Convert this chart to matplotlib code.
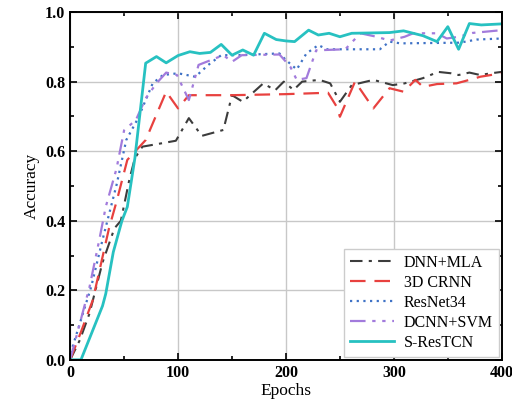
import matplotlib
matplotlib.use("Agg")
import matplotlib.pyplot as plt
from matplotlib.ticker import MultipleLocator

plt.rcParams["font.family"] = ["Liberation Serif", "DejaVu Serif"]

# values
dnn_x = [0, 9, 18, 30, 41, 47, 55, 60, 67, 80, 98, 110, 122, 142, 150, 160, 179, 190, 198, 207,
         215, 231, 241, 250, 261, 281, 299, 310, 327, 341, 353, 360, 370, 380, 390, 400]
dnn_y = [0, 0.057, 0.134, 0.28, 0.378, 0.40, 0.52, 0.58, 0.613, 0.62, 0.63, 0.695, 0.644, 0.661,
         0.761, 0.742, 0.795, 0.775, 0.80, 0.776, 0.80, 0.805, 0.795, 0.742, 0.79, 0.805, 0.79,
         0.795, 0.81, 0.828, 0.824, 0.819, 0.826, 0.819, 0.824, 0.828]

crnn_x = [0, 10, 21, 36, 43, 53, 70, 89, 100, 110, 150, 200, 239, 247, 250, 264, 281, 296, 309,
          320, 327, 340, 358, 370, 380, 400]
crnn_y = [0, 0.08, 0.172, 0.378, 0.455, 0.575, 0.632, 0.771, 0.723, 0.761, 0.761, 0.764, 0.768,
          0.728, 0.699, 0.80, 0.723, 0.781, 0.771, 0.805, 0.785, 0.793, 0.795, 0.805, 0.814, 0.824]

resnet_x = [0, 2.5, 19.5, 30, 43, 52, 63, 76.5, 86, 100, 116, 128, 140, 154, 194, 200, 210, 219,
            230, 238, 287, 296, 306, 361, 377, 400]
resnet_y = [0, 0.04, 0.21, 0.345, 0.503, 0.632, 0.695, 0.795, 0.819, 0.824, 0.814, 0.848, 0.876,
            0.876, 0.881, 0.862, 0.835, 0.881, 0.905, 0.893, 0.893, 0.915, 0.91, 0.912, 0.921, 0.924]

dcnn_x = [0, 18, 27, 33, 43, 50, 61, 70, 80, 89, 99, 110, 119, 142, 150, 159, 194, 204, 210, 219,
          228, 255, 269, 284, 296, 310, 318, 340, 349, 360, 373, 400]
dcnn_y = [0, 0.21, 0.345, 0.44, 0.55, 0.66, 0.69, 0.752, 0.795, 0.826, 0.819, 0.747, 0.848, 0.876,
          0.857, 0.876, 0.878, 0.843, 0.805, 0.81, 0.89, 0.893, 0.939, 0.929, 0.918, 0.929, 0.939,
          0.939, 0.924, 0.929, 0.94, 0.948]

tcn_x = [0, 10, 30, 33, 40, 48, 53, 60, 70, 80, 89, 100, 111, 120, 130, 140, 150, 160, 170, 180,
         191, 200, 208, 221, 230, 240, 250, 261, 296, 309, 327, 340, 350, 360, 370, 381, 400]
tcn_y = [0, 0, 0.155, 0.19, 0.31, 0.40, 0.44, 0.58, 0.853, 0.872, 0.854, 0.875, 0.886, 0.881,
         0.884, 0.907, 0.876, 0.891, 0.876, 0.939, 0.921, 0.917, 0.915, 0.948, 0.934, 0.939, 0.929,
         0.939, 0.941, 0.946, 0.932, 0.915, 0.958, 0.893, 0.967, 0.963, 0.966]

fig = plt.figure(figsize=(5.12, 4.16), dpi=100)
ax = fig.add_axes([0.137, 0.135, 0.843, 0.836])

ax.plot(dnn_x, dnn_y, color="#3c3c3c", lw=1.5, dashes=[6, 3, 1.5, 3], label="DNN+MLA")
ax.plot(crnn_x, crnn_y, color="#e8413f", lw=1.6, dashes=[7, 4], label="3D CRNN")
ax.plot(resnet_x, resnet_y, color="#3f72c6", lw=1.6, dashes=[1, 2], label="ResNet34")
ax.plot(dcnn_x, dcnn_y, color="#a27bdc", lw=1.6, dashes=[7, 3, 1.5, 3, 1.5, 3], label="DCNN+SVM")
ax.plot(tcn_x, tcn_y, color="#27c1c1", lw=2.0, label="S-ResTCN")

ax.set_xlim(0, 400)
ax.set_ylim(0, 1.0)
ax.xaxis.set_major_locator(MultipleLocator(100))
ax.xaxis.set_minor_locator(MultipleLocator(50))
ax.yaxis.set_major_locator(MultipleLocator(0.2))
ax.yaxis.set_minor_locator(MultipleLocator(0.1))
ax.yaxis.set_major_formatter(plt.FuncFormatter(lambda v, p: f"{v:.1f}"))
ax.grid(True, which="major", color="#c8c8c8", lw=1.0)
ax.set_axisbelow(True)
ax.tick_params(which="both", direction="in", top=True, right=True, width=1.2)
ax.tick_params(which="major", length=5, labelsize=11.5)
ax.tick_params(which="minor", length=3)
for lab in ax.get_xticklabels() + ax.get_yticklabels():
    lab.set_fontweight("bold")
for s in ax.spines.values():
    s.set_linewidth(1.4)

ax.set_xlabel("Epochs", fontsize=12.5, labelpad=2)
ax.set_ylabel("Accuracy", fontsize=12.5)
leg = ax.legend(loc="lower right", fontsize=11.5, handlelength=2.8, handletextpad=0.6,
                labelspacing=0.25, borderpad=0.35, borderaxespad=0.2,
                fancybox=False, framealpha=1, edgecolor="#cccccc")
leg.get_frame().set_linewidth(1.0)

fig.savefig("out.png", dpi=100)
